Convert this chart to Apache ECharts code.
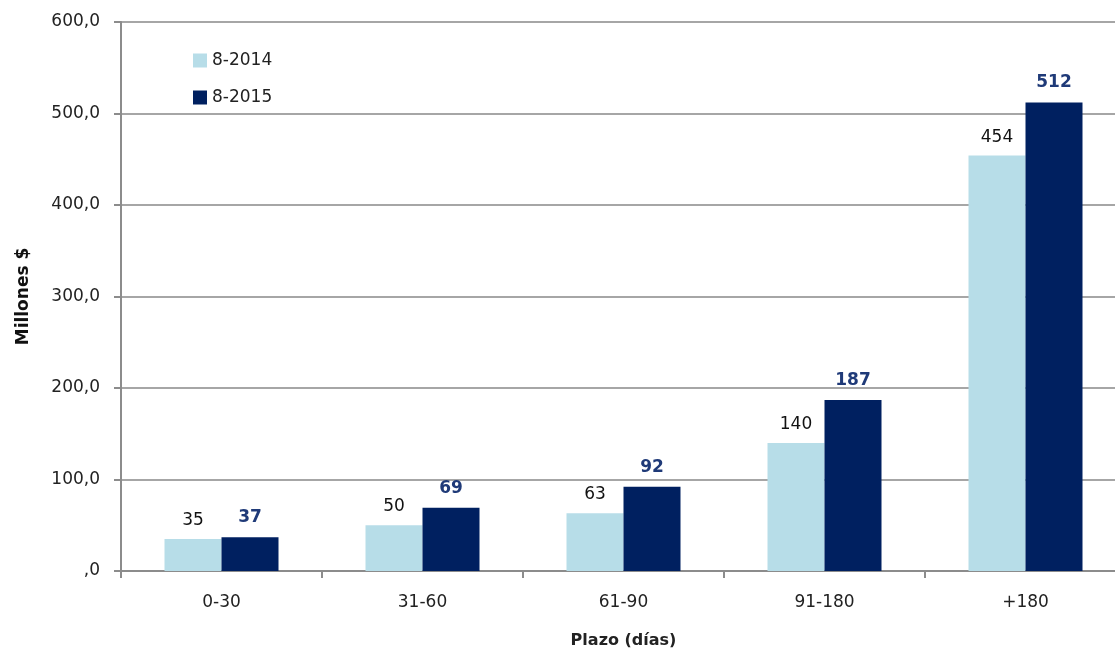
<!DOCTYPE html>
<html><head><meta charset="utf-8">
<script src="https://cdn.jsdelivr.net/npm/echarts@6/dist/echarts.min.js"></script>
<style>html,body{margin:0;padding:0;background:#fff}#c{width:1115px;height:648px}</style>
</head><body><div id="c"></div>
<script>
const categories = ['0-30', '31-60', '61-90', '91-180', '+180'];
const s2014 = [35, 50, 63, 140, 454];
const s2015 = [37, 69, 92, 187, 512];
const seriesNames = ['8-2014', '8-2015'];
const yTicks = [0, 100, 200, 300, 400, 500, 600];

const font = '"DejaVu Sans", "Open Sans", sans-serif';
const chart = echarts.init(document.getElementById('c'));
chart.setOption({
  animation: false,
  textStyle: { fontFamily: font },
  grid: { left: 121, top: 22, bottom: 77, width: 1005, containLabel: false, outerBoundsMode: 'none' },
  legend: {
    orient: 'vertical', left: 188, top: 47, itemGap: 20,
    itemWidth: 14, itemHeight: 14, icon: 'rect',
    textStyle: { fontSize: 17, color: '#222', fontFamily: font },
    data: seriesNames
  },
  xAxis: {
    type: 'category', data: categories,
    name: 'Plazo (días)', nameLocation: 'middle', nameGap: 62,
    nameTextStyle: { fontSize: 16, fontWeight: 'bold', color: '#222', fontFamily: font },
    axisLine: { lineStyle: { color: '#8c8c8c', width: 2 } },
    axisTick: { show: true, length: 7, lineStyle: { color: '#8c8c8c', width: 2 } },
    axisLabel: { fontSize: 17, color: '#222', margin: 23, fontFamily: font }
  },
  yAxis: {
    type: 'value', min: yTicks[0], max: yTicks[yTicks.length - 1], interval: 100,
    name: 'Millones $', nameLocation: 'middle', nameGap: 89,
    nameTextStyle: { fontSize: 17, fontWeight: 'bold', color: '#111', fontFamily: font },
    axisLine: { show: true, lineStyle: { color: '#8c8c8c', width: 2 } },
    axisTick: { show: true, length: 7, lineStyle: { color: '#8c8c8c', width: 2 } },
    splitLine: { lineStyle: { color: '#a6a6a6', width: 2 } },
    axisLabel: {
      fontSize: 17, color: '#222', margin: 21, fontFamily: font,
      formatter: v => v === 0 ? ',0' : (v.toFixed(1).replace('.', ','))
    }
  },
  series: [
    {
      name: seriesNames[0], type: 'bar', data: s2014, barWidth: 57, barGap: '0%',
      itemStyle: { color: '#b7dde8' },
      label: { show: true, position: 'top', distance: 10, fontSize: 17, color: '#111', fontFamily: font }
    },
    {
      name: seriesNames[1], type: 'bar', data: s2015, barWidth: 57,
      itemStyle: { color: '#002060' },
      label: { show: true, position: 'top', distance: 11, fontSize: 17, fontWeight: 'bold', color: '#1f3a78', fontFamily: font }
    }
  ]
});
</script></body></html>
